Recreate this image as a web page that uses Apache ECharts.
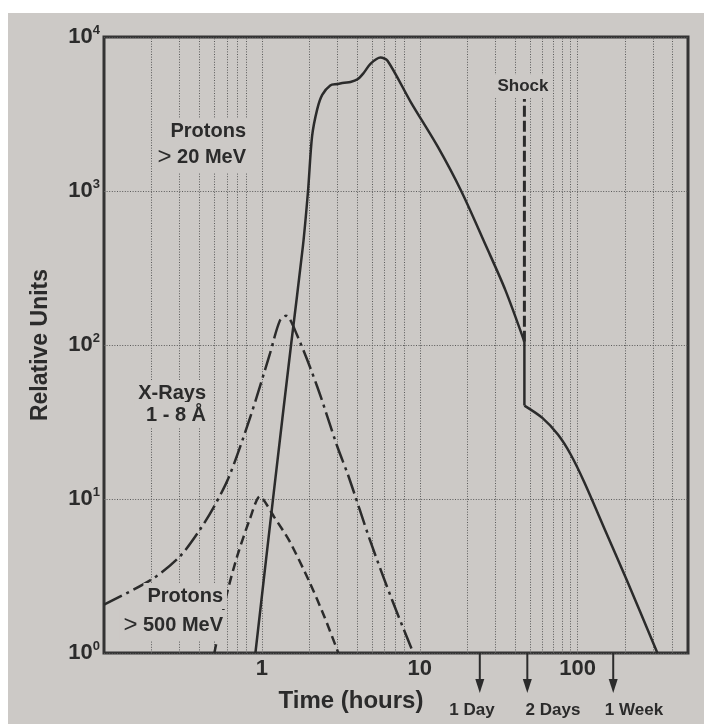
<!DOCTYPE html>
<html>
<head>
<meta charset="utf-8">
<script src="https://cdn.jsdelivr.net/npm/echarts@6/dist/echarts.min.js"></script>
<style>
  html, body { margin: 0; padding: 0; background: #ccc9c6; }
  #chart { width: 704px; height: 724px; }
</style>
</head>
<body>
<div id="chart"></div>
<script>
// ---- axis content ----
const xTickLabels = [1, 10, 100];              // hours shown under the time axis
const yTickExponents = [0, 1, 2, 3, 4];         // powers of ten on the intensity axis
const verticalGridHours = [0.2, 0.3, 0.4, 0.5, 0.6, 0.7, 0.8, 1,
  2, 3, 4, 5, 6, 7, 8, 10,
  20, 30, 40, 50, 60, 70, 80, 90, 100,
  200, 300, 400];

// ---- curves: [hours, relative units] ----
// protons > 20 MeV, onset up to the shock arrival
const protons20Rise = [
  [0.91, 1], [1.19, 11.1], [1.53, 100], [1.82, 440], [1.96, 1000],
  [2.08, 2270], [2.24, 3390], [2.41, 4210], [2.71, 4850], [3.0, 4950],
  [3.33, 5050], [3.64, 5100], [4.03, 5310], [4.4, 5820], [4.87, 6690],
  [5.64, 7350], [6.25, 7010], [8.77, 3780], [13.0, 1940], [18.3, 1000],
  [26.3, 439], [34.8, 228], [46, 105]
];
// protons > 20 MeV, after the shock passage
const protons20Decay = [
  [46, 40.4], [60, 33.5], [75, 26.2], [90, 19.6], [110, 12.9],
  [150, 6.2], [204, 3.0], [320, 1]
];
// soft X-rays 1 - 8 Å
const xrays = [
  [0.1, 2.06], [0.2, 3.0], [0.3, 4.2], [0.4, 6.2], [0.5, 9.0],
  [0.62, 14.0], [0.84, 33.5], [1.12, 86.6], [1.30, 144],
  [1.42, 155], [1.67, 116], [2.24, 53.8], [3.0, 22], [3.55, 13.9],
  [4.87, 5.3], [6.7, 2.19], [9.1, 1]
];
// protons > 500 MeV
const protons500 = [
  [0.5, 1], [0.6, 2.42], [0.7, 4.3], [0.84, 7.44], [0.97, 10.4],
  [1.2, 7.6], [1.5, 5.3], [2.0, 2.9], [2.5, 1.7], [3.05, 1]
];
// shock arrival
const shockHour = 46;
const shockSpan = [105, 3950];
// reference times marked below the axis
const markerHours = [24, 48, 168];
const markerLabels = ['1 Day', '2 Days', '1 Week'];

// ---- styling ----
const FONT = '"Liberation Sans", Arial, Helvetica, sans-serif';
const INK = '#2b2b2b';
const PAPER = '#ccc9c6';
const GRID = '#5a5a5a';
const DOTS = [1, 1.6];

function curve(name, data, lineType, smooth) {
  return {
    name, type: 'line', data, symbol: 'none', smooth, z: 5, silent: true,
    lineStyle: { color: INK, width: 2.5, type: lineType, cap: 'butt', join: 'round' }
  };
}

const chart = echarts.init(document.getElementById('chart'));

const option = {
  animation: false,
  backgroundColor: PAPER,
  grid: {
    left: 104, right: 16, top: 37, bottom: 71,
    show: true, borderColor: '#333', borderWidth: 3, backgroundColor: 'transparent',
    outerBoundsMode: 'none'
  },
  xAxis: {
    type: 'log', logBase: 10, min: 0.1, max: 500,
    axisLine: { show: false }, axisTick: { show: false },
    splitLine: { show: false }, minorTick: { show: false },
    axisLabel: {
      margin: 5, fontSize: 22, fontWeight: 'bold', fontFamily: FONT, color: INK,
      hideOverlap: false,
      formatter: v => {
        const t = xTickLabels.find(t => Math.abs(v - t) < t * 1e-6);
        return t === undefined ? '' : String(t);
      }
    }
  },
  yAxis: {
    type: 'log', logBase: 10, min: 1, max: 10000,
    name: 'Relative Units', nameLocation: 'middle', nameGap: 52,
    nameTextStyle: { fontSize: 23, fontWeight: 'bold', fontFamily: FONT, color: INK },
    axisLine: { show: false }, axisTick: { show: false },
    splitLine: { show: true, lineStyle: { color: GRID, width: 1, type: DOTS } },
    axisLabel: {
      margin: 4,
      formatter: v => {
        const e = Math.round(Math.log10(v));
        return yTickExponents.includes(e) ? '{b|10}{s|' + e + '}' : '';
      },
      rich: {
        b: { fontSize: 22, fontWeight: 'bold', fontFamily: FONT, color: INK, lineHeight: 26 },
        s: { fontSize: 13, fontWeight: 'bold', fontFamily: FONT, color: INK, lineHeight: 14, verticalAlign: 'top' }
      }
    }
  },
  series: [
    {
      // dotted vertical rulings of the log paper
      type: 'line', data: [], z: 1, silent: true,
      markLine: {
        silent: true, symbol: ['none', 'none'], animation: false,
        label: { show: false },
        lineStyle: { color: GRID, width: 1, type: DOTS },
        emphasis: { disabled: true },
        data: verticalGridHours.map(h => ({ xAxis: h }))
      }
    },
    curve('Protons > 20 MeV', protons20Rise, 'solid', 0.3),
    curve('Protons > 20 MeV shock step',
      [protons20Rise[protons20Rise.length - 1], protons20Decay[0]], 'solid', false),
    curve('Protons > 20 MeV decay', protons20Decay, 'solid', 0.3),
    curve('X-Rays 1 - 8 Å', xrays, [20, 5, 3, 5], 0.3),
    curve('Protons > 500 MeV', protons500, [9, 5], 0.25),
    {
      name: 'Shock', type: 'line', symbol: 'none', z: 5, silent: true,
      data: [[shockHour, shockSpan[0]], [shockHour, shockSpan[1]]],
      lineStyle: { color: INK, width: 3, type: [11, 4] }
    }
  ]
};

chart.setOption(option);

// ---- annotations ----
function label(text, x, y, size, align, boxed, extra) {
  return {
    type: 'text', z: 50, silent: true,
    style: Object.assign({
      text, x, y, align, verticalAlign: 'middle',
      fontSize: size, fontWeight: 'bold', fontFamily: FONT, fill: INK,
      backgroundColor: boxed ? PAPER : null, padding: boxed ? [3, 4] : 0
    }, extra || {})
  };
}
const gtRich = {
  g: { fontSize: 24, fontWeight: 'normal', fontFamily: FONT, fill: INK },
  t: { fontSize: 20, fontWeight: 'bold', fontFamily: FONT, fill: INK }
};

const axisBottom = chart.convertToPixel({ yAxisIndex: 0 }, 1);
const graphics = [
  { type: 'rect', z: 0, silent: true, shape: { x: 0, y: 0, width: 704, height: 13 }, style: { fill: '#ffffff' } },
  { type: 'rect', z: 0, silent: true, shape: { x: 0, y: 0, width: 8, height: 724 }, style: { fill: '#ffffff' } },
  label('Protons', 250, 131, 20, 'right', true),
  label('{g|>}{t| 20 MeV}', 250, 157, 20, 'right', true, { rich: gtRich }),
  label('X-Rays', 210, 393, 20, 'right', true),
  label('1 - 8 Å', 210, 415, 20, 'right', true),
  label('Protons', 227, 596, 20, 'right', true),
  label('{g|>}{t| 500 MeV}', 227, 625, 20, 'right', true, { rich: gtRich }),
  label('Shock', 523, 86, 17, 'center', true),
  label('Time (hours)', 351, 701, 24, 'center', false)
];

const markerTextX = [472, 553, 634];
markerHours.forEach((h, i) => {
  const px = chart.convertToPixel({ xAxisIndex: 0 }, h);
  graphics.push({
    type: 'line', z: 40, silent: true,
    shape: { x1: px, y1: axisBottom, x2: px, y2: axisBottom + 30 },
    style: { stroke: INK, lineWidth: 2 }
  });
  graphics.push({
    type: 'polygon', z: 40, silent: true,
    shape: { points: [[px - 4.5, axisBottom + 26], [px + 4.5, axisBottom + 26], [px, axisBottom + 40]] },
    style: { fill: INK }
  });
  graphics.push(label(markerLabels[i], markerTextX[i], 710, 17, 'center', false));
});

chart.setOption({ graphic: graphics });
</script>
</body>
</html>
